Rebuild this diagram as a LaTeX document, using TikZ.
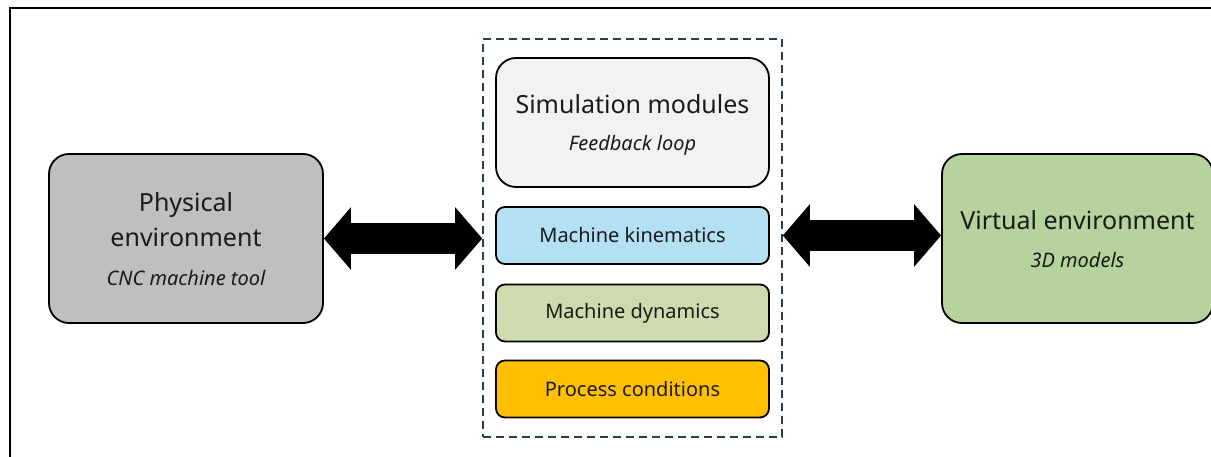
\documentclass[tikz,border=0pt]{standalone}
\usepackage{fontspec}
\setmainfont{Noto Sans}
\usetikzlibrary{arrows.meta,calc}
\definecolor{physgray}{HTML}{BFBFBF}
\definecolor{simgray}{HTML}{F2F2F2}
\definecolor{kinblue}{HTML}{B3E1F3}
\definecolor{dyngreen}{HTML}{CEDBAF}
\definecolor{procyellow}{HTML}{FFC000}
\definecolor{virtgreen}{HTML}{B6D39E}
\definecolor{dashblue}{HTML}{243F4F}
\definecolor{txt}{HTML}{1A1A1A}
\tikzset{
  bigbox/.style={draw=black, line width=1.8pt, rounded corners=20pt, align=center, inner sep=0pt},
  modbox/.style={draw=black, line width=1.8pt, rounded corners=9pt, minimum width=273pt, minimum height=57pt, inner sep=0pt, text=txt, font=\fontsize{20}{24}\selectfont},
  bigfont/.style={text=txt, font=\fontsize{25}{35}\selectfont},
  subfont/.style={text=txt, font=\fontsize{20}{24}\selectfont\itshape},
  dblarrow/.style={line width=31pt, {Triangle[length=27pt,width=61pt]}-{Triangle[length=27pt,width=61pt]}}
}
\begin{document}
\begin{tikzpicture}[x=1pt,y=-1pt]
\useasboundingbox (0,0) rectangle (1211,457);
\fill[white] (0,0) rectangle (1211,457);
\clip (0,0) rectangle (1211,457);
\draw[line width=1.5pt] (10,8) rectangle (1240,490);
% dashed container
\node[draw=dashblue, line width=1.6pt, dash pattern=on 8pt off 5pt, minimum width=299pt, minimum height=398pt, inner sep=0pt] (dash) at (632.5,238) {};
% boxes
\node[bigbox, fill=physgray, minimum width=274pt, minimum height=169pt] (phys) at (186,238.5) {};
\node[bigfont, align=center] at (186,220) {Physical\\environment};
\node[subfont] at (186,278) {CNC machine tool};
\node[bigbox, fill=simgray, minimum width=273pt, minimum height=129pt] (sim) at (632.5,122.5) {};
\node[bigfont] at (632.5,104) {Simulation modules};
\node[subfont] at (632.5,145) {Feedback loop};
\node[modbox, fill=kinblue] (kin) at (632.5,235.5) {Machine kinematics};
\node[modbox, fill=dyngreen] (dyn) at (632.5,313) {Machine dynamics};
\node[modbox, fill=procyellow] (proc) at (632.5,389) {Process conditions};
\node[bigbox, fill=virtgreen, minimum width=271pt, minimum height=169pt] (virt) at (1077.5,238.5) {};
\node[bigfont] at (1077.5,220) {Virtual environment};
\node[subfont] at (1077.5,260) {3D models};
% arrows
\draw[dblarrow] (phys.east) -- (dash.west |- phys.east);
\draw[dblarrow] (dash.east |- kin.east) -- (virt.west |- kin.east);
\end{tikzpicture}
\end{document}
